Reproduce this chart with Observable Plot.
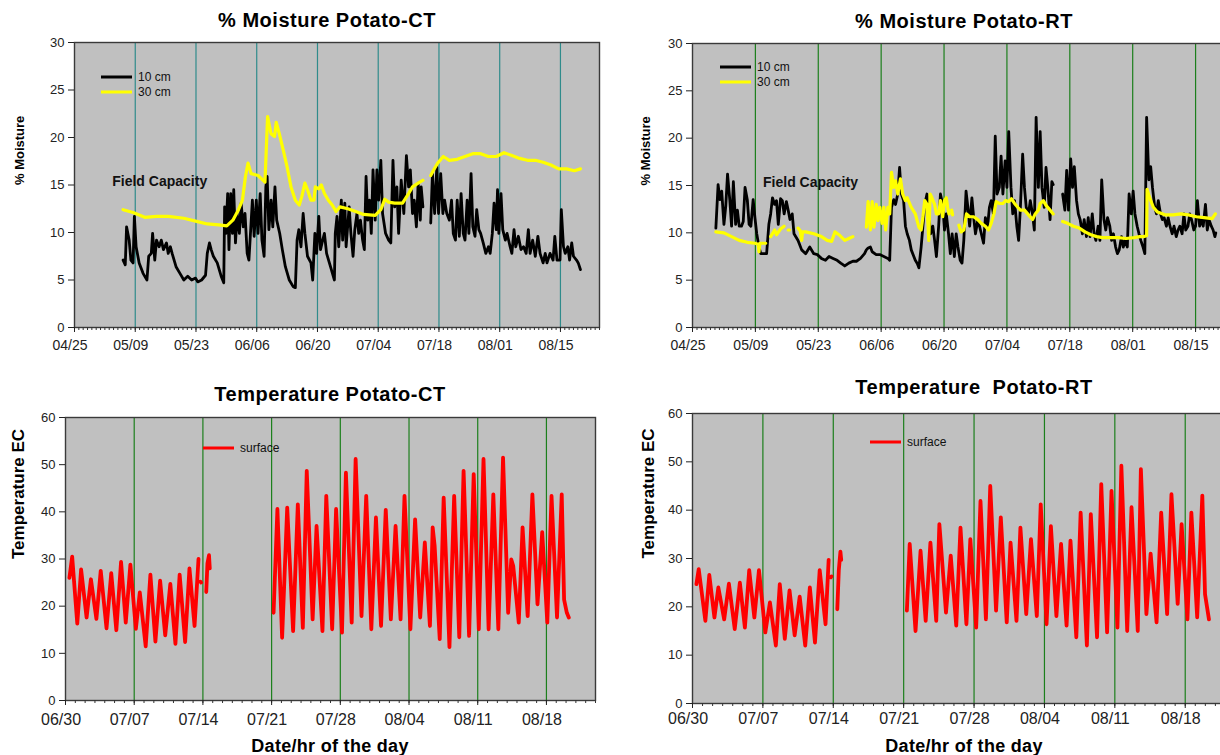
<!DOCTYPE html>
<html><head><meta charset="utf-8">
<script src="https://cdn.jsdelivr.net/npm/d3@7"></script>
<script src="https://cdn.jsdelivr.net/npm/@observablehq/plot@0.6"></script>
<style>
body{margin:0;width:1220px;height:755px;overflow:hidden;background:#fff;font-family:"Liberation Sans",Arial,sans-serif;position:relative}
.panel{position:absolute;overflow:visible}
.panel svg{max-width:none !important;display:block}
.panel svg g[aria-label="y-axis tick label"]{font-size:13px}
.panel.top svg g[aria-label="x-axis tick label"]{font-size:14px}
.panel.bottom svg g[aria-label="x-axis tick label"]{font-size:16px}
.ttl{position:absolute;font-weight:bold;white-space:nowrap;transform:translate(-50%,-50%);color:#000;letter-spacing:0.5px}
.leg{position:absolute;font-size:12px;white-space:nowrap;color:#111;transform:translateY(-50%)}
.sw{position:absolute;height:3px;transform:translateY(-50%)}
</style></head><body>
<script>
// ---------------- DATA ----------------
const moistureStart = "2005-04-25";   // day offsets below count from this date
const tempStart = "2005-06-30";
const moistureTickLabels = ["04/25","05/09","05/23","06/06","06/20","07/04","07/18","08/01","08/15"];
const tempTickLabels = ["06/30","07/07","07/14","07/21","07/28","08/04","08/11","08/18"];
const moistureYTicks = [0,5,10,15,20,25,30];
const tempYTicks = [0,10,20,30,40,50,60];

// % Moisture Potato-CT, 10 cm  [day, %]
const ct10 = [[11.2,7.1],[11.7,6.6],[12.0,10.6],[12.6,9.2],[13.0,7.1],[13.5,6.8],[13.8,11.7],[14.2,8.5],[14.9,6.8],[15.8,5.7],[16.7,5.0],[17.1,7.5],[17.7,7.8],[18.0,9.9],[18.5,7.1],[18.9,9.2],[19.5,8.5],[20.0,9.2],[20.5,8.2],[21.2,8.9],[21.6,7.8],[22.1,8.5],[22.5,7.8],[23.4,6.4],[24.3,5.7],[25.2,5.0],[26.1,5.4],[27.0,5.0],[27.9,5.2],[28.4,4.8],[29.3,5.0],[30.2,5.5],[30.6,7.8],[31.1,8.9],[31.5,8.2],[32.0,7.5],[32.9,6.8],[33.8,5.4],[34.4,4.7],[34.6,12.7],[34.9,9.9],[35.3,14.1],[35.6,8.2],[36.0,14.1],[36.4,9.9],[36.7,14.5],[37.1,8.9],[37.5,12.0],[38.0,9.9],[38.4,13.1],[38.9,10.6],[39.3,12.0],[39.8,7.8],[40.2,7.1],[41.0,13.4],[41.4,9.6],[41.9,13.4],[42.3,9.9],[42.8,14.1],[43.2,9.2],[43.7,7.5],[44.1,14.8],[44.4,15.9],[44.8,10.3],[45.3,13.4],[45.7,10.6],[46.2,14.8],[46.6,11.3],[47.3,9.9],[47.9,8.2],[48.6,6.4],[49.5,5.0],[50.4,4.3],[50.9,4.2],[51.3,9.2],[51.7,10.3],[52.2,8.5],[52.7,12.0],[53.1,9.9],[53.7,7.5],[54.5,6.8],[54.9,5.0],[55.4,9.9],[55.8,7.8],[56.3,11.7],[56.7,8.2],[57.2,9.2],[57.6,9.9],[58.1,7.8],[59.0,6.4],[59.9,5.0],[60.1,9.9],[60.5,11.7],[60.9,8.5],[61.5,13.4],[61.8,9.2],[62.3,13.1],[62.6,8.5],[63.3,12.7],[63.7,9.9],[64.2,7.5],[64.6,10.3],[65.1,12.0],[65.5,9.9],[65.9,11.3],[66.4,9.2],[66.8,8.2],[67.2,15.9],[67.6,11.3],[68.0,13.4],[68.4,9.9],[68.8,16.6],[69.3,11.3],[69.7,16.6],[70.1,13.4],[70.6,17.6],[71.0,12.0],[71.7,9.9],[72.4,9.2],[72.9,8.9],[73.4,17.6],[73.8,12.7],[74.3,14.8],[74.7,9.9],[75.3,15.5],[75.9,12.0],[76.5,18.1],[77.0,14.8],[77.4,16.6],[77.9,12.0],[78.3,13.4],[78.8,10.6],[79.2,15.2],[79.7,11.3],[79.9,14.8],[80.3,12.7],[81.2,null],[82.1,11.0],[82.5,16.2],[83.0,12.0],[83.5,16.9],[83.9,12.0],[84.4,16.2],[84.9,12.0],[85.3,13.4],[85.8,12.0],[86.4,11.3],[86.9,13.4],[87.3,9.9],[87.8,9.2],[88.2,13.4],[88.7,9.6],[89.1,14.1],[89.6,9.9],[90.0,9.2],[90.5,13.4],[90.9,9.9],[91.4,16.2],[91.8,10.6],[92.3,9.6],[92.7,12.4],[93.2,10.3],[93.6,9.9],[94.2,8.9],[94.8,7.8],[95.4,8.5],[95.8,7.8],[96.3,9.9],[96.7,13.1],[97.2,10.3],[97.5,14.5],[97.8,9.9],[98.3,14.1],[98.7,10.3],[99.3,9.2],[99.7,9.9],[100.4,8.5],[100.8,7.8],[101.3,10.3],[101.7,8.5],[102.3,9.6],[102.9,8.2],[103.5,8.5],[104.1,7.8],[104.6,10.3],[105.0,7.8],[105.6,9.2],[106.2,7.5],[106.8,9.6],[107.3,7.8],[108.0,6.8],[108.5,7.8],[108.9,6.8],[109.6,7.8],[110.3,7.1],[110.7,9.6],[111.2,7.1],[111.9,7.1],[112.2,12.4],[112.7,8.5],[113.1,7.8],[113.7,8.5],[114.1,7.1],[114.6,8.9],[115.0,7.5],[115.7,7.1],[116.1,6.8],[116.6,6.1]];
// % Moisture Potato-CT, 30 cm
const ct30 = [[11.2,12.4],[13.5,12.1],[16.2,11.6],[18.9,11.7],[21.6,11.7],[25.2,11.5],[27.9,11.2],[30.6,10.9],[33.3,10.8],[35.1,10.7],[36.5,11.3],[37.8,12.4],[38.7,13.4],[39.4,15.9],[40.0,17.3],[40.7,16.2],[42.3,16.0],[43.9,15.3],[44.5,22.2],[45.3,20.4],[46.1,20.1],[46.5,21.6],[47.2,20.4],[48.1,18.7],[49.0,16.9],[49.9,14.8],[50.9,13.4],[51.8,12.9],[52.4,13.8],[53.1,15.2],[53.7,14.5],[54.5,13.4],[55.2,13.4],[55.5,14.8],[56.3,14.6],[56.9,15.0],[57.6,14.1],[58.5,13.4],[59.4,12.9],[60.3,12.2],[61.2,12.7],[63.0,12.5],[64.8,12.2],[66.6,11.9],[69.3,11.8],[70.6,12.4],[71.5,13.5],[72.4,13.2],[73.8,13.1],[75.6,13.1],[77.0,14.1],[77.9,14.8],[79.2,15.2],[80.3,15.5],[81.2,null],[82.1,16.0],[82.8,16.6],[83.7,17.3],[85.0,18.0],[86.4,17.6],[88.2,17.7],[90.0,18.0],[91.8,18.3],[93.6,18.3],[95.4,18.0],[97.2,18.0],[99.0,18.4],[100.8,18.1],[102.6,17.8],[104.4,17.6],[106.2,17.6],[108.0,17.4],[109.8,17.1],[111.6,16.7],[113.4,16.7],[115.2,16.5],[116.6,16.7]];

// % Moisture Potato-RT, 10 cm
const rt10 = [[5.2,10.5],[5.7,15.1],[6.1,13.5],[6.5,14.4],[7.0,10.9],[7.4,12.8],[7.8,16.2],[8.3,13.5],[8.7,10.7],[9.1,15.4],[9.6,10.9],[10.0,12.4],[10.4,10.7],[10.9,10.7],[11.3,11.2],[11.7,14.8],[12.2,13.5],[12.6,10.9],[13.0,10.7],[13.5,13.5],[13.9,11.6],[14.3,9.9],[14.8,8.5],[15.2,7.8],[16.5,7.8],[17.0,10.9],[17.4,12.0],[17.8,13.7],[18.3,13.0],[18.7,13.4],[19.1,10.9],[19.6,13.6],[20.0,13.4],[20.4,12.0],[20.9,13.3],[21.3,12.4],[21.7,11.4],[22.2,12.0],[22.6,9.9],[23.5,9.2],[24.3,8.2],[25.2,7.8],[26.1,8.5],[27.0,7.8],[27.8,7.7],[28.7,7.3],[29.6,7.1],[30.4,7.5],[31.3,7.3],[32.2,7.1],[33.0,6.8],[33.9,6.5],[34.8,6.8],[35.7,7.0],[36.5,7.0],[37.4,7.3],[38.3,7.8],[38.7,8.2],[39.1,8.4],[39.6,8.5],[40.0,8.0],[40.9,7.7],[41.7,7.7],[42.6,7.5],[43.5,7.3],[43.9,7.1],[44.3,12.7],[44.8,13.5],[45.2,13.0],[45.7,14.1],[46.1,16.9],[46.5,14.1],[47.0,13.4],[47.4,10.7],[47.8,9.9],[48.3,9.2],[48.7,8.2],[49.6,7.1],[50.0,6.8],[50.4,6.3],[50.9,8.5],[51.3,10.7],[51.7,13.0],[52.2,14.1],[52.6,12.0],[53.0,9.9],[53.5,10.7],[53.9,9.2],[54.3,7.5],[54.8,10.7],[55.2,14.1],[55.7,13.0],[56.1,10.3],[56.5,12.0],[57.0,9.9],[57.4,7.8],[57.8,9.9],[58.3,7.5],[58.7,9.9],[59.1,8.5],[59.6,7.1],[60.0,6.8],[60.4,9.2],[60.9,14.4],[61.3,12.7],[61.7,10.7],[62.2,13.7],[62.6,11.6],[63.0,9.9],[63.5,11.3],[63.9,10.7],[64.3,9.9],[64.8,8.9],[65.2,11.6],[65.7,10.7],[66.1,12.7],[66.5,13.4],[67.0,12.0],[67.4,20.2],[67.8,14.1],[68.3,14.8],[68.7,18.1],[69.1,14.1],[69.6,17.6],[70.0,14.8],[70.4,20.7],[70.9,14.8],[71.3,12.0],[71.7,13.4],[72.2,10.7],[72.6,9.2],[73.0,12.7],[73.5,18.3],[73.9,14.8],[74.3,12.7],[74.8,12.0],[75.2,13.4],[75.7,12.0],[76.1,10.3],[76.5,22.2],[77.0,14.8],[77.4,20.7],[77.8,14.8],[78.3,12.7],[78.7,16.9],[79.1,14.8],[79.6,11.4],[80.0,15.4],[80.3,15.1],[81.3,null],[82.4,14.1],[82.9,12.4],[83.3,16.6],[83.7,12.4],[84.2,17.8],[84.6,14.8],[85.0,17.0],[85.5,13.4],[85.9,12.0],[86.3,11.4],[86.8,9.9],[87.2,11.4],[87.7,9.6],[88.1,11.6],[88.5,9.6],[89.0,12.0],[89.4,9.9],[89.8,9.2],[90.3,10.7],[90.7,9.2],[91.1,15.6],[91.6,11.4],[92.0,10.3],[92.4,11.6],[92.9,10.7],[93.3,9.2],[93.7,9.9],[94.2,8.5],[94.6,7.8],[95.0,8.2],[95.5,9.6],[95.9,8.5],[96.3,9.2],[96.8,8.5],[97.2,14.1],[97.7,12.0],[98.1,14.4],[98.5,12.0],[99.0,10.7],[99.4,9.9],[99.8,9.2],[100.3,8.5],[100.7,7.8],[101.1,22.2],[101.6,15.6],[102.0,17.0],[102.4,14.8],[102.9,12.7],[103.3,12.0],[103.7,13.4],[104.2,12.0],[104.6,11.4],[105.0,11.6],[105.5,10.7],[105.9,11.6],[106.3,10.7],[106.8,9.9],[107.2,10.7],[107.7,9.6],[108.1,10.3],[108.5,10.7],[109.0,9.9],[109.4,12.0],[109.8,10.3],[110.3,10.7],[110.7,12.0],[111.1,11.4],[111.6,10.3],[112.0,10.7],[112.4,13.4],[112.9,10.7],[113.3,11.4],[113.7,10.7],[114.2,13.0],[114.6,10.3],[115.0,11.4],[115.5,10.7],[115.9,10.3],[116.3,9.6],[116.5,10.0]];
// % Moisture Potato-RT, 30 cm
const rt30 = [[5.2,10.1],[7.0,10.0],[8.7,9.6],[10.4,9.2],[12.2,9.0],[13.9,8.9],[14.6,8.8],[14.8,8.0],[15.0,8.9],[16.3,8.9],[16.9,null],[17.4,9.6],[18.3,10.3],[18.7,9.8],[19.6,10.4],[20.4,10.7],[20.8,null],[21.3,10.3],[21.6,10.3],[22.5,null],[23.5,10.5],[24.0,10.2],[24.3,9.2],[24.5,10.1],[25.2,10.1],[27.0,9.9],[28.7,9.6],[30.0,9.2],[31.0,9.1],[31.7,10.1],[32.6,9.8],[33.9,9.2],[34.8,9.4],[35.7,9.6],[37.0,null],[38.7,10.6],[39.1,13.3],[39.6,10.3],[40.0,13.3],[40.4,10.6],[40.9,13.0],[41.3,11.3],[41.7,12.7],[42.2,11.0],[42.6,12.7],[43.0,10.3],[43.5,12.7],[43.9,12.0],[44.3,16.4],[44.8,14.8],[45.2,15.5],[45.7,14.1],[46.3,15.7],[46.8,14.1],[47.4,13.4],[47.8,13.7],[48.7,12.7],[49.6,12.0],[50.4,10.6],[50.9,10.3],[51.3,11.7],[51.7,13.4],[52.2,13.0],[52.6,9.2],[52.9,14.1],[53.3,13.7],[53.9,13.0],[54.3,12.0],[54.8,12.0],[55.2,13.4],[55.7,11.7],[56.1,13.4],[56.5,13.7],[56.8,12.7],[57.1,12.0],[57.4,null],[57.7,12.4],[57.9,11.9],[58.4,null],[59.3,10.8],[59.8,10.1],[60.4,10.3],[61.0,12.0],[61.7,11.7],[62.6,11.7],[63.5,11.4],[64.3,11.0],[65.2,10.7],[65.9,10.3],[66.5,11.0],[67.1,12.0],[67.6,13.3],[68.3,13.1],[69.1,13.1],[69.7,13.4],[70.4,13.3],[71.0,13.6],[71.7,13.1],[72.4,12.7],[73.0,12.4],[73.9,12.4],[74.8,11.9],[75.7,11.4],[76.3,12.0],[77.0,12.4],[77.4,13.1],[78.1,13.4],[78.7,12.9],[79.6,12.4],[80.3,12.0],[81.3,null],[82.4,11.2],[83.5,11.0],[84.8,10.7],[86.1,10.5],[87.4,10.1],[88.7,9.8],[90.0,9.6],[91.3,9.5],[93.0,9.5],[94.8,9.5],[96.5,9.4],[98.3,9.5],[99.6,9.6],[100.4,9.6],[101.1,9.7],[101.2,14.6],[101.7,13.8],[102.6,12.7],[103.5,12.2],[105.2,11.9],[107.0,11.9],[108.7,12.0],[110.4,11.9],[112.2,11.7],[113.9,11.6],[115.7,11.5],[116.4,12.0]];

// Temperature Potato-CT, surface  [day from 06/30, degrees]
const ctSurface = [[0.40,26.0],[0.68,30.5],[1.20,16.3],[1.59,27.8],[2.15,17.6],[2.59,25.7],[3.15,17.3],[3.59,27.5],[4.18,15.3],[4.66,27.0],[5.18,14.9],[5.66,29.4],[6.14,16.5],[6.61,28.8],[7.17,15.2],[7.57,22.9],[8.17,11.5],[8.65,26.7],[9.16,12.5],[9.64,25.4],[10.16,13.8],[10.68,24.7],[11.20,12.0],[11.63,26.7],[12.19,12.4],[12.63,28.0],[13.15,15.8],[13.55,30.0],[13.65,null],[13.75,25.2],[13.82,25.0],[14.0,null],[14.34,23.0],[14.46,29.0],[14.62,30.8],[14.70,28.0],[15.0,null],[21.20,18.6],[21.59,40.6],[22.07,13.3],[22.59,40.9],[23.19,14.7],[23.67,41.6],[24.18,15.4],[24.58,48.7],[25.18,17.2],[25.58,37.0],[26.18,14.7],[26.57,43.4],[27.17,15.1],[27.57,40.6],[28.17,14.4],[28.57,48.3],[29.16,16.5],[29.56,51.2],[30.16,17.9],[30.64,43.4],[31.16,15.1],[31.63,38.8],[32.15,15.8],[32.63,40.4],[33.15,17.2],[33.63,37.0],[34.14,17.2],[34.54,43.4],[35.14,15.1],[35.62,38.4],[36.14,17.6],[36.61,33.5],[37.13,15.8],[37.41,36.7],[37.61,32.8],[38.13,13.0],[38.53,43.0],[39.12,11.3],[39.60,43.4],[40.12,13.4],[40.56,48.7],[41.12,13.7],[41.59,48.0],[42.11,15.1],[42.59,51.2],[43.11,15.1],[43.59,43.7],[44.10,15.1],[44.58,51.5],[45.10,18.6],[45.42,29.9],[45.62,28.5],[46.18,16.5],[46.57,36.7],[47.09,17.9],[47.57,43.7],[48.09,20.4],[48.57,35.7],[49.09,16.5],[49.52,43.4],[50.08,17.6],[50.56,43.7],[50.80,21.4],[51.08,18.6],[51.28,17.6]];
// Temperature Potato-RT, surface
const rtSurface = [[0.39,24.7],[0.62,27.8],[1.28,17.1],[1.67,26.6],[2.18,17.8],[2.57,24.0],[3.15,17.4],[3.62,24.8],[4.20,15.4],[4.71,25.0],[5.21,15.7],[5.64,27.6],[6.15,17.8],[6.61,27.6],[7.24,14.7],[7.70,20.9],[8.29,12.0],[8.68,24.7],[9.18,13.4],[9.65,23.4],[10.16,14.1],[10.66,22.1],[11.21,12.0],[11.67,24.0],[12.18,12.6],[12.65,27.6],[13.23,16.4],[13.54,29.7],[13.65,null],[13.75,26.1],[13.82,26.3],[14.0,null],[14.40,19.5],[14.55,27.6],[14.71,31.4],[14.79,29.7],[15.0,null],[21.32,19.2],[21.60,33.0],[22.18,15.0],[22.68,31.6],[23.19,17.1],[23.66,33.3],[24.24,17.1],[24.55,37.1],[25.21,18.8],[25.68,30.6],[26.23,16.1],[26.65,36.4],[27.24,16.4],[27.63,34.0],[28.21,15.7],[28.64,41.9],[29.18,17.4],[29.61,45.0],[30.19,19.2],[30.66,38.5],[31.25,16.8],[31.63,33.3],[32.22,17.1],[32.61,36.4],[33.19,18.5],[33.66,34.0],[34.24,18.1],[34.63,41.2],[35.21,16.4],[35.64,36.7],[36.19,18.1],[36.65,33.0],[37.20,16.1],[37.59,33.7],[38.17,13.7],[38.60,39.5],[39.22,12.0],[39.61,39.2],[40.23,13.7],[40.65,45.4],[41.23,14.7],[41.67,44.0],[42.26,15.7],[42.65,49.2],[43.23,15.0],[43.66,40.6],[44.28,15.0],[44.59,48.5],[45.14,18.5],[45.56,31.0],[46.15,16.8],[46.61,39.5],[47.20,18.5],[47.63,43.3],[48.25,20.6],[48.64,37.1],[49.22,17.4],[49.61,39.5],[50.19,17.8],[50.70,43.0],[50.97,22.6],[51.36,17.4]];

// "Field Capacity" annotation positions [day, %]
const ctFieldCapacity = [[8.7, 15.4, "Field Capacity"]];
const rtFieldCapacity = [[15.7, 15.3, "Field Capacity"]];

// ---------------- BUILD ----------------
const DAY = 864e5;
const base = s => new Date(s + "T00:00:00Z");
const rowsOf = (pairs, start) => pairs.map(([d, v]) => ({date: new Date(+base(start) + d * DAY), value: v}));
const fmt = d3.utcFormat("%m/%d");
const parseTick = (lbl, year) => new Date(Date.UTC(year, +lbl.slice(0,2) - 1, +lbl.slice(3,5)));

function addDiv(cls, text, css) {
  const d = document.createElement("div");
  d.className = cls; if (text) d.textContent = text;
  Object.assign(d.style, css);
  document.body.appendChild(d);
  return d;
}

function panel(o) {
  const x0 = base(o.start), x1 = new Date(+x0 + o.days * DAY);
  const labels = o.tickLabels.map(l => parseTick(l, 2005));
  const grid = labels.slice(1);
  const daily = d3.utcDay.range(x0, new Date(+x1 + 1));
  const marks = [
    Plot.frame({fill: "#c0c0c0", stroke: null}),
    Plot.ruleX(grid, {stroke: o.gridColor, strokeWidth: 1.2}),
    ...o.series.map(s => Plot.line(rowsOf(s.data, o.start), {x: "date", y: "value", stroke: s.color, strokeWidth: s.width, strokeLinejoin: "round", strokeLinecap: "round"})),
    Plot.frame({stroke: "#3a3a3a", strokeWidth: 1.4}),
    Plot.axisY({ticks: o.yTicks, tickSize: 6, tickPadding: 4, fontSize: 13, label: null, stroke: "#222", color: "#222"}),
    Plot.axisX({ticks: daily, tickSize: 3, tickFormat: () => "", label: null, stroke: "#333"}),
    Plot.axisX({ticks: labels, tickSize: 5, tickFormat: () => "", label: null, stroke: "#222"}),
    Plot.axisX({ticks: labels, tickSize: 0, tickPadding: o.xPad, tickFormat: fmt, fontSize: o.xFont, dx: -4.5, label: null, color: "#222"}),
    Plot.text([o.yLabel], {frameAnchor: "left", rotate: -90, dx: o.yLabelDx, fontWeight: "bold", fontSize: o.yLabelSize, fill: "#000"})
  ];
  if (o.fc) marks.push(Plot.text(o.fc.map(([d, v, t]) => ({date: new Date(+x0 + d * DAY), value: v, t})), {x: "date", y: "value", text: "t", textAnchor: "start", fontWeight: "bold", fontSize: 14, fill: "#111"}));
  const chart = Plot.plot({
    width: o.width, height: o.height,
    marginLeft: o.ml, marginRight: o.mr, marginTop: o.mt, marginBottom: o.mb,
    style: {fontFamily: "'Liberation Sans', Arial, sans-serif", fontSize: o.xFont + "px", background: "transparent", overflow: "visible", maxWidth: "none"},
    x: {type: "utc", domain: [x0, x1]},
    y: {domain: o.yDomain},
    marks
  });
  chart.style.maxWidth = "none";
  chart.style.width = o.width + "px";
  chart.style.height = o.height + "px";
  const wrap = addDiv("panel " + o.row, null, {left: o.left + "px", top: o.top + "px", width: o.width + "px", height: o.height + "px"});
  wrap.appendChild(chart);
}

panel({row: "top", left: 0, top: 0, width: 610, height: 370, ml: 74, mr: 11, mt: 42, mb: 43,
  start: moistureStart, days: 121, tickLabels: moistureTickLabels, gridColor: "#2f8b8b", xFont: 14, xPad: 13,
  yDomain: [0, 30], yTicks: moistureYTicks, yLabel: "% Moisture", yLabelDx: -55, yLabelSize: 13,
  series: [{data: ct10, color: "#000", width: 2.8}, {data: ct30, color: "#ffff00", width: 3.2}], fc: ctFieldCapacity});
panel({row: "top", left: 610, top: 0, width: 640, height: 370, ml: 82, mr: 10, mt: 43, mb: 43,
  start: moistureStart, days: 122, tickLabels: moistureTickLabels, gridColor: "#1c7f1c", xFont: 14, xPad: 13,
  yDomain: [0, 30], yTicks: moistureYTicks, yLabel: "% Moisture", yLabelDx: -47, yLabelSize: 13,
  series: [{data: rt10, color: "#000", width: 2.8}, {data: rt30, color: "#ffff00", width: 3.2}], fc: rtFieldCapacity});
panel({row: "bottom", left: 0, top: 370, width: 610, height: 385, ml: 65, mr: 15, mt: 47, mb: 55,
  start: tempStart, days: 54, tickLabels: tempTickLabels, gridColor: "#1c7f1c", xFont: 16, xPad: 13,
  yDomain: [0, 60], yTicks: tempYTicks, yLabel: "Temperature EC", yLabelDx: -47, yLabelSize: 17,
  series: [{data: ctSurface, color: "#ff0000", width: 3.8}]});
panel({row: "bottom", left: 610, top: 370, width: 640, height: 385, ml: 82, mr: 15, mt: 43, mb: 52,
  start: tempStart, days: 54, tickLabels: tempTickLabels, gridColor: "#1c7f1c", xFont: 16, xPad: 9,
  yDomain: [0, 60], yTicks: tempYTicks, yLabel: "Temperature EC", yLabelDx: -44, yLabelSize: 17,
  series: [{data: rtSurface, color: "#ff0000", width: 3.8}]});

// Titles
addDiv("ttl", "% Moisture Potato-CT", {left: "327px", top: "20px", fontSize: "20px"});
addDiv("ttl", "% Moisture Potato-RT", {left: "964px", top: "21px", fontSize: "20px"});
addDiv("ttl", "Temperature Potato-CT", {left: "330px", top: "394px", fontSize: "20px"});
addDiv("ttl", "Temperature\u00a0 Potato-RT", {left: "974px", top: "387px", fontSize: "20px"});
addDiv("ttl", "Date/hr of the day", {left: "330px", top: "746px", fontSize: "18px", letterSpacing: "0.3px"});
addDiv("ttl", "Date/hr of the day", {left: "964px", top: "746px", fontSize: "18px", letterSpacing: "0.3px"});

// Legends
const legends = [
  {x: 101, y: 77, color: "#000", text: "10 cm"}, {x: 101, y: 92, color: "#ffff00", text: "30 cm"},
  {x: 720, y: 67, color: "#000", text: "10 cm"}, {x: 720, y: 82, color: "#ffff00", text: "30 cm"},
  {x: 203, y: 448, color: "#ff0000", text: "surface"}, {x: 870, y: 442, color: "#ff0000", text: "surface"}
];
for (const l of legends) {
  addDiv("sw", null, {left: l.x + "px", top: l.y + "px", width: "31px", background: l.color});
  addDiv("leg", l.text, {left: (l.x + 37) + "px", top: l.y + "px"});
}
</script></body></html>
